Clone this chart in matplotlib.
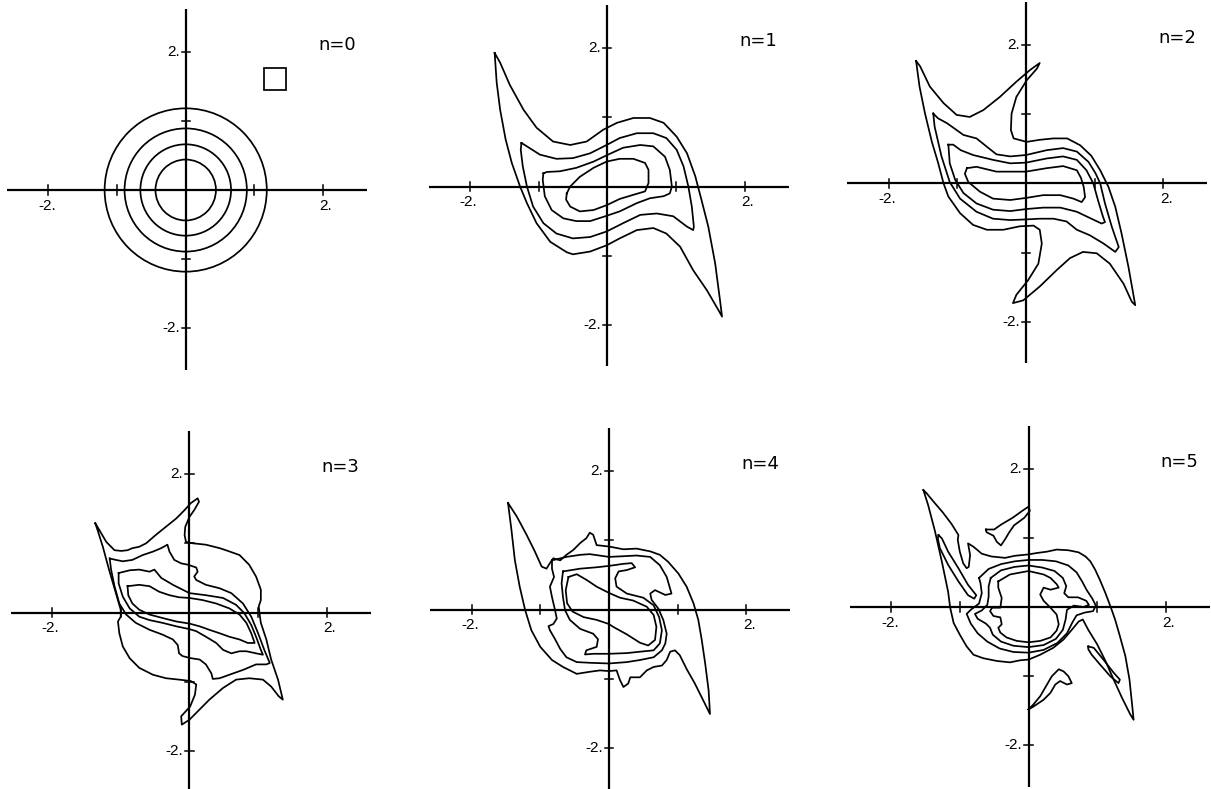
import numpy as np
import matplotlib
matplotlib.use('Agg')
import matplotlib.pyplot as plt
from matplotlib.patches import Circle, Rectangle

# ---- contour data, phase-space coordinates (x, p) ----
# n=0 : initial distribution, circular contours
N0_RADII = [0.44, 0.66, 0.89, 1.18]
N0_CELL = (1.14, 1.45, 0.32)   # grid cell marker: x0, y0, size

# n=1
N1_C1 = [(-1.64, 1.93), (-1.56, 1.79), (-1.42, 1.47), (-1.22, 1.11), (-1.03, 0.85), (-0.79, 0.65),
         (-0.54, 0.60), (-0.30, 0.65), (-0.06, 0.82), (0.14, 0.92), (0.38, 0.99), (0.62, 0.99),
         (0.82, 0.92), (1.01, 0.72), (1.16, 0.48), (1.28, 0.15), (1.37, -0.19), (1.47, -0.58),
         (1.57, -1.11), (1.64, -1.64), (1.67, -1.88), (1.62, -1.79), (1.45, -1.50), (1.25, -1.21),
         (1.06, -0.87), (0.86, -0.68), (0.67, -0.60), (0.43, -0.63), (0.18, -0.75), (-0.01, -0.85),
         (-0.25, -0.94), (-0.50, -0.98), (-0.59, -0.95), (-0.83, -0.80), (-1.03, -0.53), (-1.17, -0.24),
         (-1.27, 0.0), (-1.39, 0.34), (-1.48, 0.68), (-1.56, 1.11), (-1.61, 1.50), (-1.63, 1.79)]
N1_C2 = [(-1.25, 0.63), (-1.17, 0.58), (-0.98, 0.46), (-0.74, 0.40), (-0.50, 0.41), (-0.25, 0.48),
         (-0.01, 0.60), (0.18, 0.70), (0.43, 0.77), (0.67, 0.77), (0.86, 0.70), (1.01, 0.53),
         (1.11, 0.29), (1.18, 0.0), (1.23, -0.29), (1.26, -0.58), (1.25, -0.63), (1.16, -0.58),
         (0.96, -0.43), (0.72, -0.39), (0.48, -0.41), (0.23, -0.53), (-0.01, -0.65), (-0.25, -0.73),
         (-0.50, -0.75), (-0.74, -0.68), (-0.93, -0.53), (-1.08, -0.29), (-1.17, 0.0), (-1.23, 0.29),
         (-1.26, 0.53)]
N1_C3 = [(-0.93, 0.19), (-0.88, 0.21), (-0.69, 0.22), (-0.45, 0.27), (-0.20, 0.36), (0.01, 0.46),
         (0.23, 0.56), (0.48, 0.60), (0.67, 0.58), (0.84, 0.43), (0.91, 0.24), (0.94, 0.0),
         (0.91, -0.10), (0.82, -0.14), (0.62, -0.17), (0.43, -0.24), (0.18, -0.36), (-0.03, -0.43),
         (-0.25, -0.50), (-0.45, -0.50), (-0.64, -0.46), (-0.81, -0.34), (-0.91, -0.14), (-0.94, 0.10)]
N1_C4 = [(-0.59, -0.10), (-0.54, 0.0), (-0.40, 0.14), (-0.20, 0.27), (-0.01, 0.36), (0.18, 0.40),
         (0.38, 0.40), (0.55, 0.34), (0.60, 0.24), (0.60, 0.05), (0.55, -0.07), (0.38, -0.12),
         (0.18, -0.18), (-0.01, -0.27), (-0.20, -0.34), (-0.40, -0.36), (-0.54, -0.29), (-0.60, -0.19)]

# n=2
N2_C1 = [(-1.60, 1.77), (-1.54, 1.69), (-1.40, 1.40), (-1.20, 1.16), (-1.01, 0.99), (-0.82, 0.96),
         (-0.62, 1.06), (-0.38, 1.25), (-0.14, 1.47), (0.06, 1.64), (0.20, 1.74), (0.16, 1.66),
         (0.01, 1.49), (-0.14, 1.25), (-0.21, 1.01), (-0.22, 0.77), (-0.18, 0.65), (0.01, 0.60),
         (0.20, 0.63), (0.40, 0.65), (0.60, 0.65), (0.79, 0.55), (0.95, 0.40), (1.08, 0.19),
         (1.20, -0.05), (1.30, -0.34), (1.39, -0.72), (1.49, -1.20), (1.56, -1.59), (1.59, -1.76),
         (1.54, -1.71), (1.42, -1.45), (1.22, -1.16), (1.03, -1.01), (0.83, -0.99), (0.64, -1.08),
         (0.45, -1.25), (0.20, -1.49), (-0.04, -1.69), (-0.19, -1.73), (-0.14, -1.61), (0.03, -1.40),
         (0.18, -1.16), (0.23, -0.87), (0.20, -0.67), (0.11, -0.61), (-0.09, -0.62), (-0.33, -0.67),
         (-0.57, -0.67), (-0.77, -0.60), (-0.96, -0.43), (-1.13, -0.19), (-1.20, 0.0), (-1.28, 0.30),
         (-1.37, 0.60), (-1.47, 1.01), (-1.55, 1.40)]
N2_C2 = [(-1.35, 1.01), (-1.28, 0.94), (-1.15, 0.87), (-0.91, 0.70), (-0.72, 0.65), (-0.57, 0.53),
         (-0.43, 0.42), (-0.23, 0.39), (0.0, 0.41), (0.30, 0.48), (0.54, 0.51), (0.74, 0.46),
         (0.91, 0.31), (1.01, 0.15), (1.08, 0.0), (1.15, -0.29), (1.25, -0.63), (1.35, -0.92),
         (1.30, -0.99), (1.13, -0.87), (0.93, -0.75), (0.74, -0.67), (0.59, -0.55), (0.40, -0.51),
         (0.20, -0.51), (0.01, -0.52), (-0.23, -0.53), (-0.48, -0.51), (-0.72, -0.41), (-0.96, -0.22),
         (-1.11, 0.02), (-1.23, 0.39), (-1.33, 0.82)]
N2_C3 = [(-1.13, 0.56), (-1.06, 0.56), (-0.95, 0.48), (-0.77, 0.41), (-0.48, 0.34), (-0.23, 0.29),
         (0.0, 0.30), (0.30, 0.36), (0.54, 0.39), (0.74, 0.34), (0.88, 0.19), (0.98, 0.0),
         (1.05, -0.25), (1.12, -0.48), (1.15, -0.56), (1.10, -0.58), (0.93, -0.50), (0.74, -0.41),
         (0.50, -0.35), (0.25, -0.35), (0.01, -0.37), (-0.23, -0.40), (-0.48, -0.38), (-0.72, -0.29),
         (-0.91, -0.14), (-1.03, 0.05), (-1.11, 0.29)]
N2_C4 = [(-0.86, 0.22), (-0.72, 0.24), (-0.43, 0.17), (0.0, 0.17), (0.30, 0.22), (0.54, 0.25),
         (0.74, 0.19), (0.80, 0.08), (0.84, -0.05), (0.86, -0.20), (0.81, -0.27), (0.69, -0.22),
         (0.50, -0.17), (0.25, -0.17), (0.0, -0.21), (-0.23, -0.24), (-0.48, -0.22), (-0.67, -0.12),
         (-0.84, 0.02), (-0.89, 0.14)]

# n=3
N3_C1 = [(-1.37, 1.29), (-1.31, 1.19), (-1.21, 1.02), (-1.09, 0.90), (-0.99, 0.89), (-0.90, 0.90),
         (-0.83, 0.93), (-0.73, 0.95), (-0.63, 1.00), (-0.49, 1.12), (-0.34, 1.24), (-0.19, 1.36),
         (-0.07, 1.48), (0.02, 1.58), (0.12, 1.65), (0.14, 1.60), (0.07, 1.48), (0.0, 1.38),
         (-0.06, 1.24), (-0.07, 1.12), (-0.05, 1.02), (0.05, 1.00), (0.24, 0.98), (0.44, 0.93),
         (0.56, 0.89), (0.73, 0.83), (0.87, 0.69), (0.97, 0.52), (1.04, 0.33), (1.04, 0.18),
         (1.01, 0.09), (1.02, -0.01), (1.04, -0.15), (1.12, -0.39), (1.19, -0.68), (1.29, -0.97),
         (1.36, -1.26), (1.30, -1.21), (1.19, -1.07), (1.07, -0.97), (0.87, -0.95), (0.68, -0.97),
         (0.49, -1.09), (0.29, -1.26), (0.15, -1.40), (0.0, -1.55), (-0.11, -1.62), (-0.12, -1.50),
         (0.01, -1.36), (0.08, -1.19), (0.10, -1.04), (0.02, -0.99), (-0.15, -0.97), (-0.34, -0.95),
         (-0.53, -0.90), (-0.73, -0.80), (-0.87, -0.66), (-0.97, -0.49), (-1.02, -0.30), (-1.04, -0.13),
         (-1.00, -0.06), (-1.00, 0.04), (-1.07, 0.28), (-1.17, 0.62), (-1.26, 0.95), (-1.33, 1.17)]
N3_C2 = [(-1.16, 0.78), (-1.07, 0.76), (-0.97, 0.74), (-0.83, 0.76), (-0.68, 0.83), (-0.53, 0.88),
         (-0.41, 0.93), (-0.32, 0.98), (-0.29, 0.88), (-0.22, 0.76), (-0.12, 0.71), (-0.02, 0.69),
         (0.10, 0.65), (0.12, 0.59), (0.07, 0.52), (0.10, 0.47), (0.24, 0.40), (0.44, 0.35),
         (0.61, 0.28), (0.78, 0.13), (0.90, -0.06), (1.00, -0.30), (1.09, -0.54), (1.17, -0.73),
         (1.12, -0.75), (0.97, -0.75), (0.78, -0.83), (0.58, -0.90), (0.44, -0.95), (0.34, -0.96),
         (0.32, -0.88), (0.24, -0.75), (0.15, -0.68), (0.02, -0.66), (-0.10, -0.63), (-0.15, -0.59),
         (-0.17, -0.47), (-0.24, -0.39), (-0.39, -0.32), (-0.58, -0.25), (-0.78, -0.15), (-0.92, -0.03),
         (-1.02, 0.13), (-1.09, 0.38), (-1.14, 0.62)]
N3_C3 = [(-1.03, 0.57), (-0.87, 0.61), (-0.73, 0.62), (-0.58, 0.59), (-0.51, 0.62), (-0.41, 0.50),
         (-0.24, 0.40), (0.0, 0.28), (0.24, 0.25), (0.49, 0.21), (0.68, 0.11), (0.80, -0.01),
         (0.90, -0.18), (0.97, -0.35), (1.04, -0.54), (1.07, -0.61), (0.97, -0.59), (0.83, -0.56),
         (0.73, -0.56), (0.61, -0.59), (0.49, -0.54), (0.39, -0.44), (0.24, -0.35), (0.10, -0.27),
         (0.0, -0.24), (-0.19, -0.20), (-0.39, -0.15), (-0.58, -0.11), (-0.73, -0.06), (-0.87, 0.06),
         (-0.97, 0.23), (-1.03, 0.42)]
N3_C4 = [(-0.90, 0.38), (-0.73, 0.40), (-0.58, 0.38), (-0.44, 0.30), (-0.29, 0.25), (-0.15, 0.22),
         (0.0, 0.21), (0.19, 0.18), (0.39, 0.13), (0.58, 0.06), (0.73, -0.03), (0.83, -0.15),
         (0.90, -0.30), (0.95, -0.44), (0.85, -0.44), (0.73, -0.39), (0.58, -0.35), (0.44, -0.30),
         (0.29, -0.25), (0.15, -0.20), (0.0, -0.16), (-0.19, -0.13), (-0.39, -0.08), (-0.58, -0.03),
         (-0.73, 0.04), (-0.83, 0.13), (-0.89, 0.25)]

# n=4
N4_C1 = [(-1.47, 1.54), (-1.34, 1.34), (-1.20, 1.08), (-1.08, 0.84), (-0.98, 0.62), (-0.91, 0.59),
         (-0.86, 0.67), (-0.81, 0.74), (-0.71, 0.71), (-0.62, 0.79), (-0.52, 0.86), (-0.42, 0.96),
         (-0.33, 1.03), (-0.28, 1.11), (-0.23, 1.08), (-0.18, 0.93), (0.0, 0.91), (0.21, 0.87),
         (0.40, 0.88), (0.60, 0.84), (0.74, 0.79), (0.86, 0.69), (1.01, 0.52), (1.13, 0.33),
         (1.23, 0.09), (1.30, -0.15), (1.35, -0.44), (1.40, -0.78), (1.45, -1.17), (1.47, -1.51),
         (1.37, -1.31), (1.25, -1.07), (1.13, -0.86), (1.03, -0.66), (0.96, -0.59), (0.89, -0.61),
         (0.84, -0.73), (0.77, -0.81), (0.65, -0.83), (0.55, -0.88), (0.45, -0.98), (0.31, -0.98),
         (0.28, -1.07), (0.21, -1.12), (0.16, -1.02), (0.11, -0.88), (0.0, -0.89), (-0.13, -0.88),
         (-0.28, -0.90), (-0.47, -0.93), (-0.67, -0.83), (-0.83, -0.73), (-1.00, -0.54), (-1.13, -0.30),
         (-1.22, -0.01), (-1.30, 0.33), (-1.37, 0.71), (-1.42, 1.15)]
N4_C2 = [(-0.83, 0.71), (-0.62, 0.76), (-0.42, 0.79), (-0.28, 0.80), (0.0, 0.76), (0.21, 0.77),
         (0.40, 0.78), (0.60, 0.76), (0.74, 0.64), (0.84, 0.47), (0.91, 0.23), (0.82, 0.21),
         (0.67, 0.28), (0.60, 0.23), (0.62, 0.14), (0.72, 0.01), (0.79, -0.15), (0.84, -0.35),
         (0.82, -0.49), (0.77, -0.59), (0.65, -0.69), (0.45, -0.73), (0.26, -0.76), (0.0, -0.78),
         (-0.28, -0.77), (-0.47, -0.76), (-0.62, -0.69), (-0.71, -0.57), (-0.79, -0.42), (-0.86, -0.30),
         (-0.88, -0.24), (-0.81, -0.21), (-0.76, -0.13), (-0.79, 0.01), (-0.83, 0.18), (-0.86, 0.33),
         (-0.80, 0.47), (-0.83, 0.59)]
N4_C3 = [(-0.67, 0.55), (-0.42, 0.59), (-0.18, 0.61), (0.0, 0.63), (0.21, 0.66), (0.33, 0.67),
         (0.38, 0.61), (0.26, 0.57), (0.14, 0.55), (0.09, 0.45), (0.11, 0.33), (0.26, 0.23),
         (0.50, 0.17), (0.65, 0.06), (0.73, -0.11), (0.77, -0.30), (0.74, -0.49), (0.65, -0.59),
         (0.45, -0.61), (0.26, -0.63), (0.0, -0.64), (-0.23, -0.64), (-0.35, -0.65), (-0.33, -0.59),
         (-0.18, -0.54), (-0.16, -0.43), (-0.23, -0.35), (-0.42, -0.28), (-0.57, -0.15), (-0.64, -0.01),
         (-0.67, 0.18), (-0.69, 0.38)]
N4_C4 = [(-0.59, 0.47), (-0.47, 0.51), (-0.33, 0.43), (-0.18, 0.33), (0.0, 0.24), (0.16, 0.17),
         (0.35, 0.13), (0.55, 0.04), (0.65, -0.08), (0.69, -0.25), (0.67, -0.44), (0.57, -0.52),
         (0.45, -0.48), (0.26, -0.36), (0.06, -0.25), (0.0, -0.21), (-0.18, -0.15), (-0.37, -0.11),
         (-0.53, -0.03), (-0.61, 0.09), (-0.63, 0.28)]

# n=5
N5_C1 = [(-1.53, 1.69), (-1.46, 1.47), (-1.36, 1.09), (-1.26, 0.65), (-1.17, 0.22), (-1.14, -0.01),
         (-1.09, -0.23), (-1.00, -0.40), (-0.90, -0.57), (-0.80, -0.69), (-0.66, -0.74), (-0.46, -0.78),
         (-0.27, -0.80), (-0.12, -0.77), (0.0, -0.76), (0.17, -0.69), (0.36, -0.59), (0.51, -0.47),
         (0.63, -0.33), (0.73, -0.21), (0.79, -0.18), (0.87, -0.33), (1.00, -0.54), (1.12, -0.78),
         (1.24, -1.05), (1.36, -1.31), (1.48, -1.55), (1.53, -1.63), (1.51, -1.43), (1.47, -1.05),
         (1.41, -0.71), (1.33, -0.42), (1.26, -0.18), (1.20, -0.01), (1.12, 0.20), (1.04, 0.39),
         (0.97, 0.54), (0.90, 0.66), (0.83, 0.73), (0.73, 0.79), (0.58, 0.82), (0.41, 0.83),
         (0.27, 0.80), (0.12, 0.78), (0.0, 0.76), (-0.20, 0.74), (-0.34, 0.71), (-0.54, 0.73),
         (-0.68, 0.77), (-0.80, 0.87), (-0.88, 0.92), (-0.85, 0.75), (-0.87, 0.58), (-0.90, 0.56),
         (-0.95, 0.63), (-1.00, 0.80), (-1.03, 0.97), (-1.02, 1.04), (-1.12, 1.20), (-1.25, 1.37),
         (-1.38, 1.52), (-1.48, 1.64)]
N5_LEFT = [(-1.31, 1.04), (-1.26, 0.99), (-1.17, 0.80), (-1.02, 0.56), (-0.88, 0.32), (-0.76, 0.17),
           (-0.79, 0.12), (-0.88, 0.17), (-1.02, 0.37), (-1.17, 0.61), (-1.29, 0.85), (-1.32, 0.99)]
N5_RIGHT = [(0.87, -0.57), (0.95, -0.59), (1.09, -0.76), (1.24, -0.95), (1.33, -1.05), (1.31, -1.10),
            (1.19, -1.00), (1.04, -0.83), (0.92, -0.69), (0.87, -0.61)]
N5_TOP = [(-0.62, 1.12), (-0.50, 1.12), (-0.40, 1.19), (-0.23, 1.29), (-0.09, 1.39), (0.0, 1.45),
          (0.02, 1.39), (-0.06, 1.29), (-0.21, 1.18), (-0.28, 1.08), (-0.34, 0.98), (-0.40, 0.89),
          (-0.46, 0.94), (-0.51, 1.03), (-0.61, 1.08)]
N5_BOTTOM = [(0.0, -1.48), (0.07, -1.41), (0.17, -1.29), (0.24, -1.17), (0.34, -1.00), (0.44, -0.90),
             (0.51, -0.93), (0.58, -1.00), (0.63, -1.10), (0.56, -1.12), (0.46, -1.07), (0.39, -1.12),
             (0.32, -1.24), (0.22, -1.34), (0.07, -1.44)]
N5_C2 = [(-0.72, 0.42), (-0.58, 0.55), (-0.40, 0.62), (-0.20, 0.66), (0.0, 0.68), (0.20, 0.68),
         (0.40, 0.66), (0.58, 0.60), (0.70, 0.50), (0.78, 0.37), (0.85, 0.24), (0.93, 0.12),
         (0.98, 0.02), (0.94, -0.06), (0.82, -0.08), (0.70, -0.12), (0.64, -0.22), (0.56, -0.38),
         (0.42, -0.52), (0.22, -0.62), (0.0, -0.66), (-0.22, -0.65), (-0.42, -0.60), (-0.60, -0.50),
         (-0.74, -0.38), (-0.84, -0.24), (-0.90, -0.10), (-0.84, -0.04), (-0.72, 0.05), (-0.68, 0.20),
         (-0.70, 0.35)]
N5_C3 = [(-0.55, 0.42), (-0.40, 0.53), (-0.20, 0.58), (0.0, 0.60), (0.20, 0.57), (0.38, 0.52),
         (0.50, 0.42), (0.55, 0.30), (0.52, 0.20), (0.58, 0.14), (0.72, 0.14), (0.84, 0.09),
         (0.88, 0.03), (0.80, 0.0), (0.66, 0.02), (0.56, -0.04), (0.54, -0.18), (0.50, -0.33),
         (0.40, -0.46), (0.22, -0.55), (0.0, -0.58), (-0.22, -0.56), (-0.40, -0.50), (-0.52, -0.40),
         (-0.56, -0.30), (-0.62, -0.24), (-0.74, -0.17), (-0.78, -0.10), (-0.68, -0.05), (-0.60, 0.03),
         (-0.58, 0.15), (-0.58, 0.30)]
N5_C4 = [(-0.44, 0.37), (-0.27, 0.47), (0.0, 0.52), (0.22, 0.47), (0.32, 0.42), (0.41, 0.33),
         (0.44, 0.28), (0.32, 0.25), (0.22, 0.28), (0.17, 0.18), (0.22, 0.09), (0.32, -0.01),
         (0.41, -0.11), (0.44, -0.25), (0.41, -0.34), (0.32, -0.44), (0.17, -0.49), (0.0, -0.51),
         (-0.17, -0.49), (-0.32, -0.44), (-0.41, -0.37), (-0.44, -0.30), (-0.39, -0.25), (-0.41, -0.15),
         (-0.51, -0.13), (-0.56, -0.06), (-0.53, -0.01), (-0.41, -0.01), (-0.39, 0.13), (-0.44, 0.28)]

LABELS = ['n=0', 'n=1', 'n=2', 'n=3', 'n=4', 'n=5']
CONTOURS = [
    [],
    [N1_C1, N1_C2, N1_C3, N1_C4],
    [N2_C1, N2_C2, N2_C3, N2_C4],
    [N3_C1, N3_C2, N3_C3, N3_C4],
    [N4_C1, N4_C2, N4_C3, N4_C4],
    [N5_C1, N5_LEFT, N5_RIGHT, N5_TOP, N5_BOTTOM, N5_C2, N5_C3, N5_C4],
]

# ---- layout (pixels) ----
W, H = 1211, 789
SX, SY = 68.7, 69.2          # pixels per unit
HALF = 2.8                   # half-width of each panel in data units
ORIGINS = [(185.7, 190.0), (607.3, 186.5), (1026.0, 183.4),
           (189.4, 612.5), (609.0, 609.5), (1028.5, 607.0)]

LW_AX = 1.6
LW_C = 1.25

fig = plt.figure(figsize=(W / 100, H / 100), dpi=100)
fig.patch.set_facecolor('white')

for k, (ox, oy) in enumerate(ORIGINS):
    left = (ox - HALF * SX) / W
    bottom = (H - (oy + HALF * SY)) / H
    ax = fig.add_axes([left, bottom, 2 * HALF * SX / W, 2 * HALF * SY / H])
    ax.set_xlim(-HALF, HALF)
    ax.set_ylim(-HALF, HALF)
    ax.axis('off')

    # coordinate axes with tick marks
    ax.plot([-2.6, 2.64], [0, 0], color='black', lw=LW_AX, solid_capstyle='butt')
    ax.plot([0, 0], [-2.6, 2.62], color='black', lw=LW_AX, solid_capstyle='butt')
    for t in (-2, -1, 1, 2):
        ax.plot([t, t], [-0.07, 0.07], color='black', lw=1.1)
        ax.plot([-0.06, 0.06], [t, t], color='black', lw=1.1)
    ax.text(-2.02, -0.13, '-2.', ha='center', va='top', fontsize=11, family='Liberation Sans')
    ax.text(2.04, -0.13, '2.', ha='center', va='top', fontsize=11, family='Liberation Sans')
    ax.text(-0.09, 2.0, '2.', ha='right', va='center', fontsize=11, family='Liberation Sans')
    ax.text(-0.09, -2.0, '-2.', ha='right', va='center', fontsize=11, family='Liberation Sans')

    ax.text(2.2, 2.1, LABELS[k], ha='center', va='center', fontsize=13, family='DejaVu Sans')

    if k == 0:
        for r in N0_RADII:
            ax.add_patch(Circle((0, 0), r, fill=False, ec='black', lw=LW_C))
        x0, y0, s = N0_CELL
        ax.add_patch(Rectangle((x0, y0), s, s, fill=False, ec='black', lw=LW_C))

    for pts in CONTOURS[k]:
        arr = np.array(pts + [pts[0]])
        ax.plot(arr[:, 0], arr[:, 1], color='black', lw=LW_C,
                solid_joinstyle='round')

fig.savefig('out.png', dpi=100, facecolor='white')
